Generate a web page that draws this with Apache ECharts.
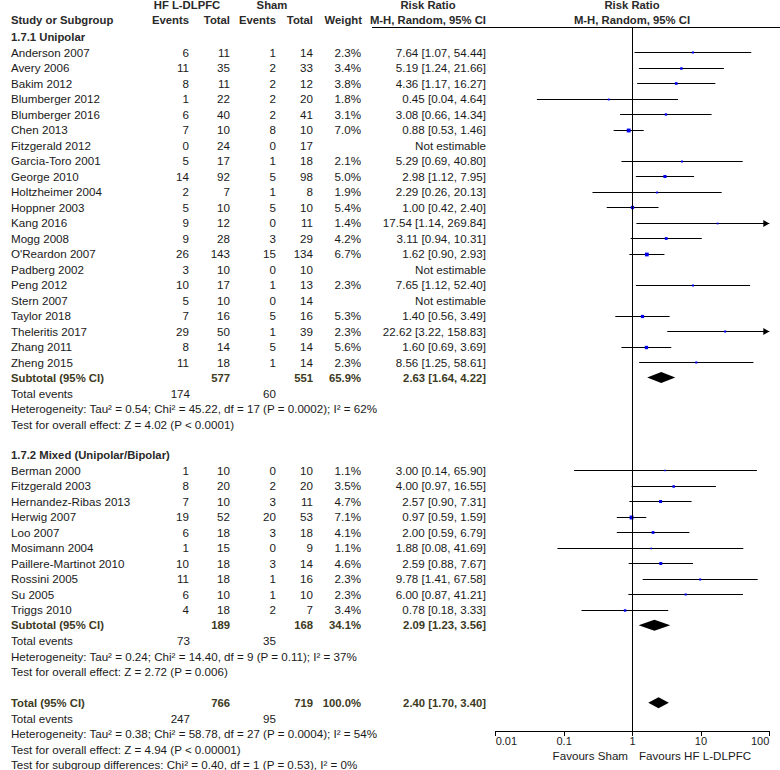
<!DOCTYPE html>
<html><head><meta charset="utf-8">
<script src="https://cdn.jsdelivr.net/npm/echarts@6.0.0/dist/echarts.min.js"></script>
<style>html,body{margin:0;padding:0;background:#fff}#c{width:780px;height:770px}</style>
</head><body><div id="c"></div>
<script>
// ---------- DATA ----------
const subgroupNames = ['1.7.1 Unipolar', '1.7.2 Mixed (Unipolar/Bipolar)'];

const studies1 = ['Anderson 2007','Avery 2006','Bakim 2012','Blumberger 2012','Blumberger 2016','Chen 2013','Fitzgerald 2012','Garcia-Toro 2001','George 2010','Holtzheimer 2004','Hoppner 2003','Kang 2016','Mogg 2008',"O'Reardon 2007",'Padberg 2002','Peng 2012','Stern 2007','Taylor 2018','Theleritis 2017','Zhang 2011','Zheng 2015'];
const hfEvents1 = [6,11,8,1,6,7,0,5,14,2,5,9,9,26,3,10,5,7,29,8,11];
const hfTotal1 = [11,35,11,22,40,10,24,17,92,7,10,12,28,143,10,17,10,16,50,14,18];
const shamEvents1 = [1,2,2,2,2,8,0,1,5,1,5,0,3,15,0,1,0,5,1,5,1];
const shamTotal1 = [14,33,12,20,41,10,17,18,98,8,10,11,29,134,10,13,14,16,39,14,14];
const weight1 = [2.3,3.4,3.8,1.8,3.1,7.0,null,2.1,5.0,1.9,5.4,1.4,4.2,6.7,null,2.3,null,5.3,2.3,5.6,2.3];
const rr1 = [7.64,5.19,4.36,0.45,3.08,0.88,null,5.29,2.98,2.29,1.00,17.54,3.11,1.62,null,7.65,null,1.40,22.62,1.60,8.56];
const lo1 = [1.07,1.24,1.17,0.04,0.66,0.53,null,0.69,1.12,0.26,0.42,1.14,0.94,0.90,null,1.12,null,0.56,3.22,0.69,1.25];
const hi1 = [54.44,21.66,16.27,4.64,14.34,1.46,null,40.80,7.95,20.13,2.40,269.84,10.31,2.93,null,52.40,null,3.49,158.83,3.69,58.61];

const studies2 = ['Berman 2000','Fitzgerald 2003','Hernandez-Ribas 2013','Herwig 2007','Loo 2007','Mosimann 2004','Paillere-Martinot 2010','Rossini 2005','Su 2005','Triggs 2010'];
const hfEvents2 = [1,8,7,19,6,1,10,11,6,4];
const hfTotal2 = [10,20,10,52,18,15,18,18,10,18];
const shamEvents2 = [0,2,3,20,3,0,3,1,1,2];
const shamTotal2 = [10,20,11,53,18,9,14,16,10,7];
const weight2 = [1.1,3.5,4.7,7.1,4.1,1.1,4.6,2.3,2.3,3.4];
const rr2 = [3.00,4.00,2.57,0.97,2.00,1.88,2.59,9.78,6.00,0.78];
const lo2 = [0.14,0.97,0.90,0.59,0.59,0.08,0.88,1.41,0.87,0.18];
const hi2 = [65.90,16.55,7.31,1.59,6.79,41.69,7.67,67.58,41.21,3.33];

const subtotalHfTotal = [577, 189];
const subtotalShamTotal = [551, 168];
const subtotalWeight = [65.9, 34.1];
const subtotalRR = [2.63, 2.09];
const subtotalLo = [1.64, 1.23];
const subtotalHi = [4.22, 3.56];
const totalEventsHf = [174, 73];
const totalEventsSham = [60, 35];
const heterogeneityText = [
  'Heterogeneity: Tau\u00b2 = 0.54; Chi\u00b2 = 45.22, df = 17 (P = 0.0002); I\u00b2 = 62%',
  'Heterogeneity: Tau\u00b2 = 0.24; Chi\u00b2 = 14.40, df = 9 (P = 0.11); I\u00b2 = 37%'
];
const overallEffectText = [
  'Test for overall effect: Z = 4.02 (P < 0.0001)',
  'Test for overall effect: Z = 2.72 (P = 0.006)'
];

const overallHfTotal = 766, overallShamTotal = 719, overallWeight = 100.0;
const overallRR = 2.40, overallLo = 1.70, overallHi = 3.40;
const overallEventsHf = 247, overallEventsSham = 95;
const overallHetText = 'Heterogeneity: Tau\u00b2 = 0.38; Chi\u00b2 = 58.78, df = 27 (P = 0.0004); I\u00b2 = 54%';
const overallEffText = 'Test for overall effect: Z = 4.94 (P < 0.00001)';
const subgroupDiffText = 'Test for subgroup differences: Chi\u00b2 = 0.40, df = 1 (P = 0.53), I\u00b2 = 0%';

const tickLabels = ['0.01','0.1','1','10','100'];
const favoursLeft = 'Favours Sham', favoursRight = 'Favours HF L-DLPFC';

// ---------- LAYOUT ----------
const ROW0 = 37, ROWH = 15.48;
const GRID_TOP = 27, GRID_BOTTOM = 731;
const PLOT_L = 495.7, PLOT_R = 769.3;
const rowY = k => ROW0 + ROWH * k;
const FAM = '"Liberation Sans", Arial, sans-serif';
const FONT = '11.6px ' + FAM;
const BFONT = 'bold 11.3px ' + FAM;
const TXT = '#1a1a1a', HEAD = '#2a2a2a', SUB = '#3d3a1e';
const COL = {hfEv:189, hfTot:230, shEv:276, shTot:313, wt:361, ci:486, name:11};

const fmtCI = (r,l,h) => r.toFixed(2)+' ['+l.toFixed(2)+', '+h.toFixed(2)+']';

const g = [];
function T(text, x, y, align, font, fill){
  g.push({type:'text', silent:true, style:{text:String(text), x:x, y:y, textAlign:align||'left', textVerticalAlign:'middle', font:font||FONT, fill:fill||TXT}});
}

// header
T('HF L-DLPFC', 187, 5, 'center', BFONT, HEAD);
T('Sham', 272, 5, 'center', BFONT, HEAD);
T('Risk Ratio', 428, 5, 'center', BFONT, HEAD);
T('Risk Ratio', 632, 5, 'center', BFONT, HEAD);
T('Study or Subgroup', 11, 20, 'left', BFONT, HEAD);
T('Events', 189, 20, 'right', BFONT, HEAD);
T('Total', 230, 20, 'right', BFONT, HEAD);
T('Events', 276, 20, 'right', BFONT, HEAD);
T('Total', 313, 20, 'right', BFONT, HEAD);
T('Weight', 362, 20, 'right', BFONT, HEAD);
T('M-H, Random, 95% CI', 486, 20, 'right', BFONT, HEAD);
T('M-H, Random, 95% CI', 632, 20, 'center', BFONT, HEAD);
g.push({type:'line', silent:true, shape:{x1:372, y1:GRID_TOP+0.5, x2:780, y2:GRID_TOP+0.5}, style:{stroke:'#000', lineWidth:1}});

const groups = [
  {names:studies1, he:hfEvents1, ht:hfTotal1, se:shamEvents1, st:shamTotal1, w:weight1, rr:rr1, lo:lo1, hi:hi1},
  {names:studies2, he:hfEvents2, ht:hfTotal2, se:shamEvents2, st:shamTotal2, w:weight2, rr:rr2, lo:lo2, hi:hi2}
];
const ciData = [], diamondData = [];
let k = 0;
groups.forEach((gr, gi) => {
  T(subgroupNames[gi], 11, rowY(k), 'left', BFONT, HEAD);
  k++;
  gr.names.forEach((n, i) => {
    const y = rowY(k);
    T(n, COL.name, y);
    T(gr.he[i], COL.hfEv, y, 'right');
    T(gr.ht[i], COL.hfTot, y, 'right');
    T(gr.se[i], COL.shEv, y, 'right');
    T(gr.st[i], COL.shTot, y, 'right');
    if (gr.rr[i] !== null) {
      T(gr.w[i].toFixed(1)+'%', COL.wt, y, 'right');
      T(fmtCI(gr.rr[i], gr.lo[i], gr.hi[i]), COL.ci, y, 'right');
      ciData.push([k, gr.rr[i], gr.lo[i], gr.hi[i], gr.w[i]]);
    } else {
      T('Not estimable', COL.ci, y, 'right');
    }
    k++;
  });
  let y = rowY(k);
  T('Subtotal (95% CI)', COL.name, y, 'left', BFONT, SUB);
  T(subtotalHfTotal[gi], COL.hfTot, y, 'right', BFONT, SUB);
  T(subtotalShamTotal[gi], COL.shTot, y, 'right', BFONT, SUB);
  T(subtotalWeight[gi].toFixed(1)+'%', COL.wt, y, 'right', BFONT, SUB);
  T(fmtCI(subtotalRR[gi], subtotalLo[gi], subtotalHi[gi]), COL.ci, y, 'right', BFONT, SUB);
  diamondData.push([k, subtotalRR[gi], subtotalLo[gi], subtotalHi[gi]]);
  k++;
  y = rowY(k);
  T('Total events', COL.name, y);
  T(totalEventsHf[gi], COL.hfEv+1, y, 'right');
  T(totalEventsSham[gi], COL.shEv, y, 'right');
  k++;
  T(heterogeneityText[gi], COL.name, rowY(k)); k++;
  T(overallEffectText[gi], COL.name, rowY(k)); k++;
  k++; // blank
});
// overall
let y = rowY(k);
T('Total (95% CI)', COL.name, y, 'left', BFONT, SUB);
T(overallHfTotal, COL.hfTot, y, 'right', BFONT, SUB);
T(overallShamTotal, COL.shTot, y, 'right', BFONT, SUB);
T(overallWeight.toFixed(1)+'%', COL.wt, y, 'right', BFONT, SUB);
T(fmtCI(overallRR, overallLo, overallHi), COL.ci, y, 'right', BFONT, SUB);
diamondData.push([k, overallRR, overallLo, overallHi]);
k++;
y = rowY(k);
T('Total events', COL.name, y);
T(overallEventsHf, COL.hfEv+1, y, 'right');
T(overallEventsSham, COL.shEv, y, 'right');
k++;
T(overallHetText, COL.name, rowY(k)); k++;
T(overallEffText, COL.name, rowY(k)); k++;
T(subgroupDiffText, COL.name, rowY(k)); k++;

// favours labels
const X1 = PLOT_L + (PLOT_R - PLOT_L) * 0.5; // RR = 1 sits mid-way on the 0.01..100 log axis
T(favoursLeft, X1 - 4.5, 755, 'right');
T(favoursRight, X1 + 6.5, 755, 'left');

// ---------- CHART ----------
const chart = echarts.init(document.getElementById('c'), null, {renderer:'svg'});
chart.setOption({
  animation: false,
  backgroundColor: '#fff',
  grid: {left: PLOT_L, right: 780 - PLOT_R, top: GRID_TOP, bottom: 770 - GRID_BOTTOM, containLabel:false, outerBoundsMode:'none'},
  xAxis: {
    type: 'log', logBase: 10, min: 0.01, max: 100, interval: 1, position: 'bottom',
    axisLine: {show:true, onZero:false, lineStyle:{color:'#000', width:1}},
    axisTick: {show:true, length:5, lineStyle:{color:'#000'}},
    splitLine: {show:false},
    minorTick: {show:false},
    axisLabel: {
      margin: 4, color: TXT, fontSize: 11, fontFamily: FAM,
      alignMinLabel: 'left', alignMaxLabel: 'right',
      formatter: function (v) {
        const e = Math.round(Math.log10(v));
        return tickLabels[e + 2] !== undefined ? tickLabels[e + 2] : '';
      }
    }
  },
  yAxis: {
    type: 'value', inverse: true, show: false,
    min: (GRID_TOP - ROW0) / ROWH, max: (GRID_BOTTOM - ROW0) / ROWH
  },
  graphic: g,
  series: [
    {
      type: 'custom', name: 'studies', data: ciData, clip: false,
      encode: {x: [1,2,3], y: 0},
      renderItem: function (params, api) {
        const row = api.value(0), est = api.value(1), lo = api.value(2), hi = api.value(3), w = api.value(4);
        const hiC = Math.min(hi, 100);
        const p0 = api.coord([lo, row]), p1 = api.coord([hiC, row]), pe = api.coord([est, row]);
        const yy = Math.round(p0[1]) + 0.5;
        const s = 1.2 + 0.38 * w;
        const ch = [
          {type:'line', shape:{x1:p0[0], y1:yy, x2:p1[0], y2:yy}, style:{stroke:'#000', lineWidth:1}},
          {type:'rect', shape:{x:pe[0]-s/2, y:yy-s/2, width:s, height:s}, style:{fill:'#0000ee'}}
        ];
        if (hi > 100) {
          ch.push({type:'polygon', shape:{points:[[p1[0], yy],[p1[0]-6, yy-3.5],[p1[0]-6, yy+3.5]]}, style:{fill:'#000'}});
        }
        return {type:'group', children: ch};
      },
      markLine: {
        silent: true, symbol: ['none','none'], label:{show:false},
        lineStyle: {color:'#000', width:1, type:'solid'},
        data: [{xAxis: 1}]
      }
    },
    {
      type: 'custom', name: 'pooled', data: diamondData, clip: false,
      encode: {x: [1,2,3], y: 0},
      renderItem: function (params, api) {
        const row = api.value(0), est = api.value(1), lo = api.value(2), hi = api.value(3);
        const pl = api.coord([lo, row]), pe = api.coord([est, row]), ph = api.coord([hi, row]);
        const h = 5.5;
        return {type:'polygon', shape:{points:[[pl[0], pl[1]],[pe[0], pe[1]-h],[ph[0], ph[1]],[pe[0], pe[1]+h]]}, style:{fill:'#000'}};
      }
    }
  ]
});
</script>
</body></html>
